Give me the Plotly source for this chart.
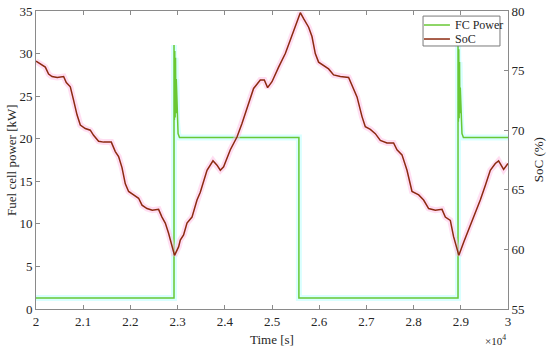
import plotly.graph_objects as go

# ---- data ----
fc_time = [20000, 22924, 22924, 22932, 22940, 22948, 22956, 22964, 22972, 22990, 23010, 23040,
           25570, 25570, 28941, 28941, 28949, 28957, 28965, 28973, 28981, 28989, 29005, 29025, 29055, 30000]
fc_power = [1.3, 1.3, 31.0, 22.2, 30.3, 22.5, 29.5, 23.0, 27.0, 21.8, 20.6, 20.15,
            20.15, 1.3, 1.3, 31.2, 22.0, 30.5, 22.4, 29.0, 23.0, 26.0, 21.8, 20.6, 20.15, 20.15]

soc_time = [20000, 20127, 20197, 20267, 20339, 20451, 20585, 20642, 20727, 20797, 20869, 20939,
            21044, 21150, 21220, 21326, 21432, 21595, 21680, 21750, 21822, 21892, 21962, 22068,
            22174, 22246, 22352, 22464, 22597, 22669, 22739, 22809, 22860, 22915, 22935, 23021,
            23057, 23127, 23199, 23305, 23411, 23481, 23623, 23750, 23835, 23905, 23975, 24117,
            24258, 24364, 24504, 24610, 24752, 24837, 24907, 25000, 25140, 25282, 25388, 25494,
            25600, 25670, 25776, 25847, 25917, 25987, 26093, 26199, 26305, 26447, 26623, 26695,
            26801, 26907, 26977, 27083, 27189, 27295, 27436, 27576, 27648, 27754, 27860, 27966,
            28108, 28212, 28319, 28460, 28602, 28672, 28778, 28847, 28905, 28959, 29065, 29165,
            29271, 29413, 29519, 29625, 29731, 29801, 29907, 30000]
soc_value = [75.79, 75.50, 75.29, 74.71, 74.50, 74.43, 74.50, 74.00, 73.64, 72.50, 71.29, 70.43,
             70.14, 70.00, 69.57, 69.07, 69.00, 69.00, 68.21, 67.79, 66.86, 65.50, 64.86, 64.57,
             64.29, 63.71, 63.43, 63.29, 63.36, 62.71, 62.21, 61.36, 60.50, 59.57, 59.50, 60.21,
             60.79, 61.21, 62.21, 62.71, 64.14, 64.79, 66.64, 67.43, 67.07, 66.64, 66.93, 68.36,
             69.43, 70.57, 72.21, 73.50, 74.21, 74.21, 73.57, 74.07, 75.29, 76.43, 77.57, 78.79,
             79.86, 79.36, 78.64, 77.86, 76.43, 75.71, 75.43, 75.14, 74.64, 74.50, 74.43, 73.79,
             72.79, 71.14, 70.29, 70.07, 69.71, 69.14, 68.93, 68.93, 68.36, 67.93, 66.64, 64.86,
             64.57, 64.14, 63.43, 63.29, 63.36, 62.71, 62.43, 61.07, 60.21, 59.50, 60.64, 61.64,
             62.57, 64.14, 65.36, 66.64, 67.21, 67.43, 66.71, 67.21]

x_ticks = [20000, 21000, 22000, 23000, 24000, 25000, 26000, 27000, 28000, 29000, 30000]
x_tick_labels = ["2", "2.1", "2.2", "2.3", "2.4", "2.5", "2.6", "2.7", "2.8", "2.9", "3"]
y_left_ticks = [0, 5, 10, 15, 20, 25, 30, 35]
y_right_ticks = [55, 60, 65, 70, 75, 80]
series_names = ["FC Power", "SoC"]

GREEN = "rgb(104,200,52)"
RED = "rgb(140,42,16)"
FONT = "Liberation Serif"
AX = "#8a8a8a"
TXT = "#262626"

fig = go.Figure()
# soft halos (as seen in the reference rendering)
fig.add_trace(go.Scatter(x=fc_time, y=fc_power, mode="lines", yaxis="y",
                         line=dict(color="rgba(170,255,255,0.45)", width=6),
                         showlegend=False, hoverinfo="skip"))
fig.add_trace(go.Scatter(x=soc_time, y=soc_value, mode="lines", yaxis="y2",
                         line=dict(color="rgba(255,190,230,0.5)", width=6),
                         showlegend=False, hoverinfo="skip"))
fig.add_trace(go.Scatter(x=fc_time, y=fc_power, mode="lines", name=series_names[0], yaxis="y",
                         line=dict(color=GREEN, width=1.5), showlegend=False))
fig.add_trace(go.Scatter(x=soc_time, y=soc_value, mode="lines", name=series_names[1], yaxis="y2",
                         line=dict(color=RED, width=1.5), showlegend=False))

# compact legend box (top right, inside plot)
bx0, bx1, by0, by1 = 0.820, 0.983, 0.8826, 0.983
lx0, lx1, tx = 0.822, 0.877, 0.8835
rows = [0.953, 0.906]
shapes = [dict(type="rect", xref="paper", yref="paper", x0=bx0, x1=bx1, y0=by0, y1=by1,
               fillcolor="white", line=dict(color="#7a7a7a", width=1), layer="above")]
annotations = []
for name, col, yy in zip(series_names, [GREEN, RED], rows):
    shapes.append(dict(type="line", xref="paper", yref="paper", x0=lx0, x1=lx1, y0=yy, y1=yy,
                       line=dict(color=col, width=1.5), layer="above"))
    annotations.append(dict(text=name, xref="paper", yref="paper", x=tx, y=yy,
                            xanchor="left", yanchor="middle", showarrow=False,
                            font=dict(size=12, color=TXT, family=FONT)))
# axis titles and exponent label
annotations += [
    dict(text="×10<sup>4</sup>", xref="paper", yref="paper", x=1.0, y=-0.075,
         xanchor="right", yanchor="top", showarrow=False, font=dict(size=11, color=TXT, family=FONT)),
    dict(text="Time [s]", xref="paper", yref="paper", x=0.5, y=-0.104,
         xanchor="center", yanchor="middle", showarrow=False, font=dict(size=13, color=TXT, family=FONT)),
    dict(text="Fuel cell power [kW]", xref="paper", yref="paper", x=-0.053, y=0.5, textangle=-90,
         xanchor="center", yanchor="middle", showarrow=False, font=dict(size=13, color=TXT, family=FONT)),
    dict(text="SoC (%)", xref="paper", yref="paper", x=1.064, y=0.5, textangle=-90,
         xanchor="center", yanchor="middle", showarrow=False, font=dict(size=13, color=TXT, family=FONT)),
]

fig.update_layout(
    width=550, height=352,
    margin=dict(l=36, r=42, t=11, b=43, autoexpand=False),
    paper_bgcolor="white", plot_bgcolor="white",
    font=dict(family=FONT, size=13, color=TXT),
    xaxis=dict(range=[20000, 30000], tickvals=x_ticks, ticktext=x_tick_labels,
               showline=True, linecolor=AX, linewidth=1, mirror="ticks", automargin=False,
               ticks="inside", ticklen=4, tickcolor=AX, showgrid=False, zeroline=False,
               ticklabeloverflow="allow"),
    yaxis=dict(range=[0, 35], tickvals=y_left_ticks, automargin=False,
               showline=True, linecolor=AX, linewidth=1,
               ticks="inside", ticklen=4, tickcolor=AX, showgrid=False, zeroline=False,
               ticklabeloverflow="allow"),
    yaxis2=dict(range=[55, 80], tickvals=y_right_ticks, overlaying="y", side="right",
                showline=True, linecolor=AX, linewidth=1, automargin=False,
                ticks="inside", ticklen=4, tickcolor=AX, showgrid=False, zeroline=False,
                ticklabeloverflow="allow"),
    showlegend=False,
    shapes=shapes,
    annotations=annotations,
)

fig.write_html("out.html", config={"displayModeBar": False},
               post_script="document.body.style.margin='0px';")
